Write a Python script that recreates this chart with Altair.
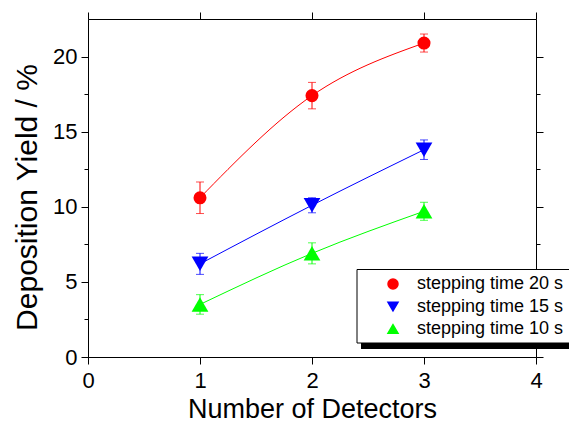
import altair as alt
import pandas as pd

# ---- data ----
detectors = [1, 2, 3]
series_names = ["stepping time 20 s", "stepping time 15 s", "stepping time 10 s"]
yield_20 = [10.6, 17.4, 20.9]
err_20 = [1.05, 0.88, 0.6]
yield_15 = [6.2, 10.1, 13.8]
err_15 = [0.7, 0.5, 0.65]
yield_10 = [3.5, 6.9, 9.7]
err_10 = [0.65, 0.7, 0.6]
series_colors = ["#ff0000", "#0000ff", "#00ff00"]
series_shapes = ["circle", "triangle-down", "triangle-up"]
x_ticks = [0, 1, 2, 3, 4]
y_ticks = [0, 2.5, 5, 7.5, 10, 12.5, 15, 17.5, 20]

rows = []
for name, ys, es in zip(series_names, [yield_20, yield_15, yield_10], [err_20, err_15, err_10]):
    for x, y, e in zip(detectors, ys, es):
        rows.append({"series": name, "x": x, "y": y, "lo": y - e, "hi": y + e})
df = pd.DataFrame(rows)

FONT = "Liberation Sans"
xscale = alt.Scale(domain=[0, 4], nice=False, zero=False)
yscale = alt.Scale(domain=[0, 22.5], nice=False, zero=False)
cscale = alt.Scale(domain=series_names, range=series_colors)
sscale = alt.Scale(domain=series_names, range=series_shapes)

tick_cond = {"condition": {"test": "datum.value % 5 === 0", "value": 7}, "value": 4}

x_bottom = alt.Axis(values=x_ticks, tickSize=7, labelFontSize=22, labelFont=FONT,
                    labelPadding=6, labelFlush=False, title="Number of Detectors",
                    titleFontSize=27, titleFont=FONT, titleFontWeight="normal",
                    titleBaseline="alphabetic", titleY=60, domainColor="black",
                    tickColor="black", labelColor="black", titleColor="black", grid=False,
                    format="d")
y_left = alt.Axis(values=y_ticks, tickSize=tick_cond, labelFontSize=22, labelFont=FONT,
                  labelPadding=4, labelFlush=False,
                  labelExpr="datum.value % 5 === 0 ? datum.label : ''",
                  title="Deposition Yield / %", titleFontSize=30, titleFont=FONT,
                  titleFontWeight="normal", titleBaseline="alphabetic", titleX=-52,
                  titleY=178, domainColor="black", tickColor="black", labelColor="black",
                  titleColor="black", grid=False, format="d")
x_top = alt.Axis(orient="top", values=x_ticks, tickSize=7, labels=False, title=None,
                 domainColor="black", tickColor="black", grid=False)
y_right = alt.Axis(orient="right", values=y_ticks, tickSize=tick_cond, labels=False,
                   title=None, domainColor="black", tickColor="black", grid=False)

legend_spec = alt.Legend(title=None, orient="none", legendX=296, legendY=256,
                         labelFontSize=18, labelFont=FONT, labelColor="black",
                         symbolSize=100, symbolOpacity=1, rowPadding=4.5, padding=0,
                         labelOffset=15, symbolOffset=0)
color_enc = alt.Color("series:N", scale=cscale, sort=series_names, legend=legend_spec)
shape_enc = alt.Shape("series:N", scale=sscale, sort=series_names, legend=legend_spec)

base = alt.Chart(df)

frame = base.mark_point(opacity=0).encode(
    x=alt.X("x:Q", scale=xscale, axis=x_top),
    y=alt.Y("y:Q", scale=yscale, axis=y_right),
)

lines = base.mark_line(strokeWidth=1, interpolate="monotone").encode(
    x=alt.X("x:Q", scale=xscale, axis=x_bottom),
    y=alt.Y("y:Q", scale=yscale, axis=y_left),
    color=color_enc,
)

err_rules = base.mark_rule(strokeWidth=1).encode(
    x=alt.X("x:Q", scale=xscale, axis=None),
    y=alt.Y("lo:Q", scale=yscale, axis=None),
    y2="hi:Q",
    color=color_enc,
)
cap_lo = base.mark_tick(orient="horizontal", size=8, thickness=1).encode(
    x=alt.X("x:Q", scale=xscale, axis=None),
    y=alt.Y("lo:Q", scale=yscale, axis=None),
    color=color_enc,
)
cap_hi = base.mark_tick(orient="horizontal", size=8, thickness=1).encode(
    x=alt.X("x:Q", scale=xscale, axis=None),
    y=alt.Y("hi:Q", scale=yscale, axis=None),
    color=color_enc,
)

circles = base.transform_filter(
    alt.FieldOneOfPredicate(field="series", oneOf=series_names[:1])
).mark_point(filled=True, opacity=1, size=170).encode(
    x=alt.X("x:Q", scale=xscale, axis=None),
    y=alt.Y("y:Q", scale=yscale, axis=None),
    color=color_enc,
    shape=shape_enc,
)
triangles = base.transform_filter(
    alt.FieldOneOfPredicate(field="series", oneOf=series_names[1:])
).mark_point(filled=True, opacity=1, size=280).encode(
    x=alt.X("x:Q", scale=xscale, axis=None),
    y=alt.Y("y:Q", scale=yscale, axis=None),
    color=color_enc,
    shape=shape_enc,
)

# legend box with its shadow (decoration)
box_df = pd.DataFrame({"k": [0]})
shadow = alt.Chart(box_df).mark_rect(color="black").encode(
    x=alt.value(273), x2=alt.value(520), y=alt.value(324), y2=alt.value(330))
box = alt.Chart(box_df).mark_rect(fill="white", stroke="black", strokeWidth=1).encode(
    x=alt.value(269), x2=alt.value(520), y=alt.value(250.5), y2=alt.value(324))

chart = alt.layer(frame, lines, err_rules, cap_lo, cap_hi, circles, triangles,
                  shadow, box).resolve_axis(
    x="independent", y="independent"
).properties(
    width=448, height=338,
    autosize=alt.AutoSizeParams(type="none"),
    padding={"left": 80, "top": 11, "right": 33, "bottom": 66},
).configure_view(stroke=None).configure(background="white")

chart.save("out.html", embed_options={"renderer": "svg", "actions": False})
